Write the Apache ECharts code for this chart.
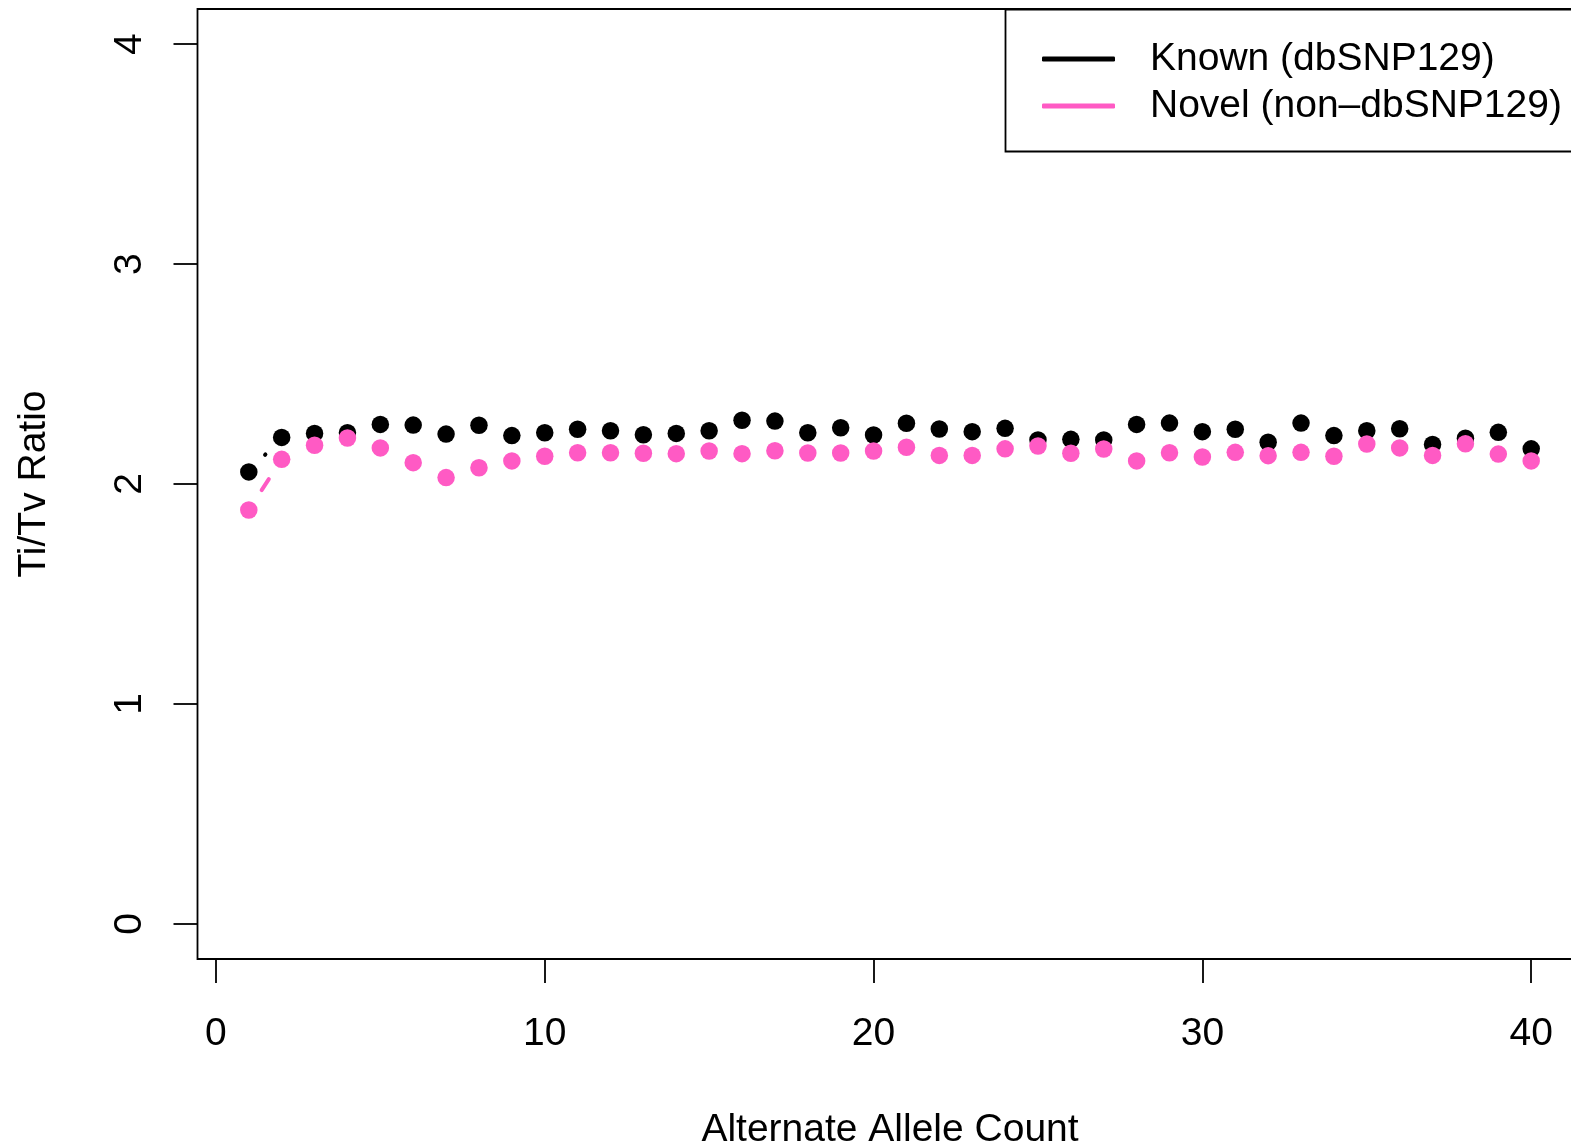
<!DOCTYPE html>
<html>
<head>
<meta charset="utf-8">
<script src="https://cdn.jsdelivr.net/npm/echarts@6.0.0/dist/echarts.min.js"></script>
<style>
	html, body { margin: 0; padding: 0; background: #fff; overflow: hidden; }
	#main { width: 1571px; height: 1146px; }
</style>
</head>
<body>
<div id="main"></div>
<script>
// alternate allele count 1..40
var alleleCount = [];
for (var i = 1; i <= 40; i++) alleleCount.push(i);

var knownTiTv = [
	2.055, 2.212, 2.230, 2.233, 2.271, 2.268, 2.227, 2.267, 2.220, 2.233,
	2.249, 2.242, 2.224, 2.230, 2.242, 2.290, 2.286, 2.233, 2.256, 2.223,
	2.276, 2.250, 2.238, 2.253, 2.200, 2.203, 2.200, 2.271, 2.277, 2.238,
	2.249, 2.190, 2.277, 2.220, 2.242, 2.251, 2.180, 2.208, 2.235, 2.160
];
var novelTiTv = [
	1.882, 2.112, 2.176, 2.209, 2.164, 2.097, 2.029, 2.074, 2.105, 2.126,
	2.142, 2.142, 2.140, 2.138, 2.150, 2.138, 2.151, 2.141, 2.141, 2.150,
	2.167, 2.130, 2.130, 2.160, 2.173, 2.140, 2.159, 2.105, 2.142, 2.123,
	2.144, 2.129, 2.144, 2.126, 2.182, 2.164, 2.130, 2.183, 2.136, 2.105
];
var xTicks = [0, 10, 20, 30, 40];
var yTicks = [0, 1, 2, 3, 4];

var knownName = 'Known (dbSNP129)';
var novelName = 'Novel (non\u2013dbSNP129)';
var knownColor = '#000000';
var novelColor = '#ff5ac4';

var font = 'Liberation Sans, Arial, Helvetica, sans-serif';

function points(ys) {
	return alleleCount.map(function(x, i) { return [x, ys[i]]; });
}
function pairs(ys) {
	var out = [];
	for (var i = 0; i < alleleCount.length - 1; i++) {
		out.push([alleleCount[i], ys[i], alleleCount[i + 1], ys[i + 1]]);
	}
	return out;
}

// R type="b": segments between points, with a gap round each point
var GAP = 23.6;
function segRender(color) {
	return function(params, api) {
		var p0 = api.coord([api.value(0), api.value(1)]);
		var p1 = api.coord([api.value(2), api.value(3)]);
		var dx = p1[0] - p0[0], dy = p1[1] - p0[1];
		var d = Math.sqrt(dx * dx + dy * dy);
		if (d <= 2 * GAP) return { type: 'group', children: [] };
		var ux = dx / d, uy = dy / d;
		return {
			type: 'line',
			shape: {
				x1: p0[0] + ux * GAP, y1: p0[1] + uy * GAP,
				x2: p1[0] - ux * GAP, y2: p1[1] - uy * GAP
			},
			style: { stroke: color, lineWidth: 4, lineCap: 'round' }
		};
	};
}

var myChart = echarts.init(document.getElementById('main'));

var option = {
	animation: false,
	grid: {
		show: true,
		left: 197.5,
		top: 9,
		width: 1385,
		height: 950,
		outerBoundsMode: 'none',
		containLabel: false,
		borderColor: '#000',
		borderWidth: 1.8,
		backgroundColor: 'transparent'
	},
	xAxis: {
		type: 'value',
		min: -0.56,
		max: 41.56,
		name: 'Alternate Allele Count',
		nameLocation: 'middle',
		nameGap: 152,
		nameMoveOverlap: false,
		nameTextStyle: { fontFamily: font, fontSize: 39, color: '#000', lineHeight: 39 },
		axisLine: { show: false, onZero: false },
		splitLine: { show: false },
		axisTick: {
			show: true,
			length: 24,
			customValues: xTicks,
			lineStyle: { color: '#000', width: 1.8 }
		},
		axisLabel: {
			customValues: xTicks,
			margin: 56,
			fontFamily: font,
			fontSize: 39,
			lineHeight: 39,
			color: '#000'
		}
	},
	yAxis: {
		type: 'value',
		min: -0.16,
		max: 4.16,
		name: 'Ti/Tv Ratio',
		nameLocation: 'middle',
		nameRotate: 90,
		nameGap: 144,
		nameMoveOverlap: false,
		nameTextStyle: { fontFamily: font, fontSize: 39, color: '#000', lineHeight: 39 },
		axisLine: { show: false, onZero: false },
		splitLine: { show: false },
		axisTick: {
			show: true,
			length: 24,
			customValues: yTicks,
			lineStyle: { color: '#000', width: 1.8 }
		},
		axisLabel: {
			customValues: yTicks,
			rotate: 90,
			margin: 48,
			fontFamily: font,
			fontSize: 39,
			lineHeight: 39,
			color: '#000'
		}
	},
	legend: {
		orient: 'vertical',
		left: 1037,
		top: 34.5,
		itemWidth: 73,
		itemHeight: 5,
		itemGap: 8,
		selectedMode: false,
		textStyle: {
			fontFamily: font,
			fontSize: 39,
			lineHeight: 39,
			color: '#000',
			padding: [0, 0, 0, 30]
		},
		data: [
			{ name: knownName, icon: 'roundRect', itemStyle: { color: knownColor } },
			{ name: novelName, icon: 'roundRect', itemStyle: { color: novelColor } }
		]
	},
	graphic: [{
		type: 'rect',
		shape: { x: 1005.5, y: 9.5, width: 700, height: 142 },
		style: { fill: 'none', stroke: '#000', lineWidth: 1.8 },
		z: 10
	}],
	series: [
		{
			name: knownName,
			type: 'custom',
			renderItem: segRender(knownColor),
			encode: { x: [0, 2], y: [1, 3] },
			data: pairs(knownTiTv),
			silent: true,
			z: 2
		},
		{
			name: knownName,
			type: 'scatter',
			symbol: 'circle',
			symbolSize: 17.5,
			itemStyle: { color: knownColor, opacity: 1 },
			data: points(knownTiTv),
			z: 3
		},
		{
			name: novelName,
			type: 'custom',
			renderItem: segRender(novelColor),
			encode: { x: [0, 2], y: [1, 3] },
			data: pairs(novelTiTv),
			silent: true,
			z: 4
		},
		{
			name: novelName,
			type: 'scatter',
			symbol: 'circle',
			symbolSize: 17.5,
			itemStyle: { color: novelColor, opacity: 1 },
			data: points(novelTiTv),
			z: 5
		}
	]
};

myChart.setOption(option);
</script>
</body>
</html>
